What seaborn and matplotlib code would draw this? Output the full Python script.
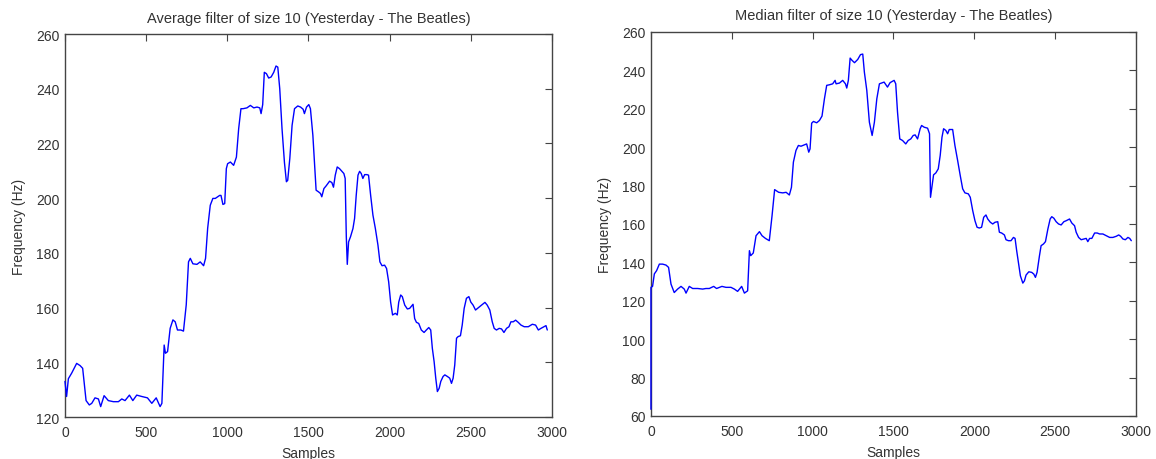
import numpy as np
import pandas as pd
import matplotlib
matplotlib.use("Agg")
import matplotlib.pyplot as plt
import seaborn as sns

# Average filter curve (samples, Hz)
avg_x = [0, 10, 21, 41, 72, 93, 109, 130, 150, 165, 185, 206, 220, 241, 267, 298,
         329, 350, 370, 397, 418, 442, 473, 508, 535, 562, 586, 597, 611, 619, 632,
         648, 665, 679, 693, 714, 730, 747, 761, 772, 788, 813, 833, 854, 866, 879,
         895, 911, 926, 953, 961, 973, 984, 994, 1002, 1019, 1039, 1056, 1070, 1084,
         1097, 1121, 1142, 1163, 1183, 1200, 1208, 1218, 1228, 1241, 1255, 1270, 1286,
         1300, 1311, 1323, 1337, 1352, 1364, 1372, 1385, 1399, 1414, 1434, 1451, 1467,
         1475, 1488, 1502, 1512, 1527, 1537, 1547, 1562, 1574, 1582, 1595, 1609, 1630,
         1644, 1654, 1665, 1677, 1691, 1706, 1718, 1726, 1733, 1739, 1747, 1759, 1774,
         1784, 1794, 1805, 1815, 1825, 1835, 1846, 1860, 1870, 1883, 1897, 1912, 1928,
         1940, 1953, 1969, 1981, 1994, 2006, 2018, 2035, 2047, 2056, 2068, 2078, 2093,
         2109, 2123, 2144, 2154, 2165, 2179, 2195, 2212, 2226, 2241, 2253, 2263, 2274,
         2284, 2294, 2305, 2315, 2329, 2340, 2356, 2370, 2381, 2391, 2401, 2412, 2422,
         2436, 2447, 2459, 2473, 2488, 2500, 2514, 2529, 2545, 2566, 2587, 2601, 2617,
         2632, 2644, 2658, 2675, 2689, 2704, 2720, 2735, 2747, 2761, 2776, 2792, 2809,
         2829, 2854, 2879, 2899, 2916, 2932, 2951, 2963, 2971]
avg_hz = [133, 127.5, 134, 136, 139.6, 138.8, 137.8, 126, 124.4, 125, 127, 126.6,
          123.8, 127.8, 126, 125.6, 125.6, 126.6, 126, 128, 126, 128, 127.5, 127, 125,
          127, 123.8, 125, 146.3, 143.3, 143.9, 152.4, 155.5, 154.8, 151.8, 151.8,
          151.4, 161, 176.7, 178, 176, 175.8, 176.7, 175.3, 178, 189, 197.4, 199.9,
          199.9, 201, 201, 197.7, 198, 210.8, 212.6, 213.2, 212, 215, 225.4, 232.7,
          232.7, 233, 233.9, 233, 233.3, 233, 230.9, 234.2, 246, 245.5, 243.9, 244.3,
          246, 248.3, 247.9, 240, 225.4, 213, 206, 206.5, 214.5, 226.6, 232.7, 233.7,
          233.3, 232.5, 230.9, 233.3, 234.2, 232.7, 223, 213, 202.9, 202.3, 201.7,
          200.5, 203.5, 204.5, 206.2, 205.7, 204, 208.4, 211.4, 210.8, 209.8, 209,
          207.2, 185.9, 175.8, 184, 185.9, 188.9, 192.6, 201, 208.4, 209.8, 209, 207.2,
          208.6, 208.6, 208.4, 201, 193.8, 188.9, 182.8, 176.7, 175.3, 175.5, 174.3,
          169.4, 162, 157.3, 157.9, 157.3, 162, 164.6, 164, 160.9, 159.5, 159.7, 161.2,
          156, 154.6, 154.2, 151.8, 150.9, 151.8, 152.7, 151.8, 145.1, 140.2, 134.2,
          129.3, 130.5, 133, 134.8, 135.4, 134.8, 134.2, 132.3, 134.2, 139, 148.8,
          149.4, 149.7, 153.6, 159.7, 163.4, 164, 162, 160.9, 159.1, 159.9, 160.9,
          161.9, 160.9, 159.1, 154.8, 152.4, 151.8, 152.4, 152.2, 150.9, 152.4, 153,
          154.8, 154.8, 155.4, 154.6, 153.6, 153, 153, 153.9, 153.6, 151.8, 152.4, 153,
          153.4, 151.8]

# Median filter curve (samples, Hz)
med_x = [0, 0, 10, 21, 35, 52, 72, 93, 109, 124, 144, 165, 186, 206, 217, 237, 258,
         289, 320, 340, 361, 388, 406, 439, 464, 495, 516, 536, 561, 578, 598, 609,
         617, 633, 650, 671, 687, 708, 732, 749, 765, 790, 815, 836, 856, 869, 881,
         897, 912, 928, 949, 963, 976, 984, 994, 1005, 1025, 1042, 1058, 1073, 1087,
         1104, 1124, 1139, 1145, 1166, 1186, 1203, 1211, 1221, 1232, 1244, 1259, 1279,
         1296, 1310, 1320, 1335, 1351, 1368, 1382, 1397, 1413, 1442, 1463, 1479, 1504,
         1514, 1525, 1539, 1556, 1576, 1591, 1607, 1622, 1634, 1649, 1665, 1674, 1690,
         1711, 1723, 1729, 1736, 1748, 1762, 1777, 1789, 1800, 1810, 1824, 1835, 1845,
         1866, 1880, 1897, 1913, 1928, 1942, 1963, 1975, 1990, 2004, 2017, 2031, 2045,
         2058, 2072, 2083, 2099, 2114, 2128, 2145, 2155, 2169, 2186, 2196, 2211, 2227,
         2242, 2252, 2262, 2273, 2285, 2300, 2310, 2320, 2337, 2355, 2368, 2378, 2388,
         2403, 2413, 2428, 2440, 2455, 2469, 2479, 2492, 2506, 2521, 2537, 2554, 2568,
         2589, 2603, 2620, 2630, 2645, 2661, 2678, 2692, 2702, 2713, 2727, 2744, 2760,
         2775, 2795, 2816, 2837, 2857, 2878, 2893, 2905, 2919, 2934, 2950, 2961, 2971]
med_hz = [63.5, 127, 127.5, 134, 135.7, 139.1, 139.1, 138.6, 137.4, 128.7, 124.3,
          126.1, 127.5, 126.1, 124, 127.5, 126.4, 126.4, 126.1, 126.4, 126.4, 127.5,
          126.4, 127.5, 127, 127, 126.1, 124.9, 127.5, 124, 125.2, 146.1, 143.5, 144.9,
          153.9, 156, 153.9, 152.5, 151.3, 164.3, 177.9, 176.5, 176.2, 176.5, 175.1,
          179.1, 192.2, 198.3, 200.9, 200.5, 201.2, 201.7, 197.4, 199.1, 212.5, 213.4,
          212.7, 213.9, 216.2, 225.2, 232.2, 232.5, 233, 234.8, 233, 233.4, 234.8, 233,
          230.8, 234.8, 246.4, 245.2, 244, 245.7, 248.2, 248.5, 239.1, 229.6, 213,
          206.1, 213, 225.2, 233, 233.9, 231.3, 233.6, 234.8, 233, 218.3, 204.3, 203.5,
          201.7, 203.5, 204.3, 206.1, 206.4, 204.3, 209.6, 211.3, 210.4, 209.9, 207,
          173.9, 178.3, 185.6, 186.6, 188.7, 195.7, 205.2, 209.6, 208.7, 207, 209.2,
          209.2, 200.9, 193, 185.2, 178.3, 176.2, 175.7, 173.9, 167, 161.7, 158.3,
          157.9, 158.3, 163.5, 164.7, 162.6, 160.9, 160, 160.9, 161.2, 155.7, 155.3,
          154.3, 151.8, 151.3, 151.3, 153, 152.5, 146.1, 140, 133, 129.2, 130.4, 133.4,
          135.1, 134.8, 133.9, 132.2, 134.8, 143.5, 148.7, 149.6, 150.8, 157.4, 162.6,
          163.8, 163, 161.2, 160, 159.5, 161.2, 161.7, 162.6, 160.5, 159.1, 155.7, 153,
          151.8, 152.2, 152.5, 150.8, 152.5, 152.5, 155.3, 155.3, 154.8, 154.8, 153.9,
          153, 153, 153.6, 154.3, 153.6, 152.2, 151.8, 153, 152.5, 151.3]

titles = ["Average filter of size 10 (Yesterday - The Beatles)",
          "Median filter of size 10 (Yesterday - The Beatles)"]
x_ticks = [0, 500, 1000, 1500, 2000, 2500, 3000]
avg_y_ticks = [120, 140, 160, 180, 200, 220, 240, 260]
med_y_ticks = [60, 80, 100, 120, 140, 160, 180, 200, 220, 240, 260]

sns.set_style("white")
plt.rcParams["font.family"] = ["Liberation Sans", "DejaVu Sans"]
text_color = "#333333"
frame_color = "#444444"

fig = plt.figure(figsize=(11.56, 4.6), dpi=100)
ax1 = fig.add_axes([0.0562, 0.0913, 0.4213, 0.8326])
ax2 = fig.add_axes([0.5631, 0.0935, 0.4196, 0.8348])

panels = [
    (ax1, avg_x, avg_hz, avg_y_ticks, titles[0]),
    (ax2, med_x, med_hz, med_y_ticks, titles[1]),
]

for ax, xs, ys, yticks, title in panels:
    df = pd.DataFrame({"Samples": xs, "Frequency (Hz)": ys})
    sns.lineplot(data=df, x="Samples", y="Frequency (Hz)", ax=ax,
                 color="#0000ff", linewidth=1.0, estimator=None, sort=False,
                 zorder=3, clip_on=False)
    ax.set_xlim(0, 3000)
    ax.set_ylim(yticks[0], yticks[-1])
    ax.set_xticks(x_ticks)
    ax.set_yticks(yticks)
    ax.tick_params(direction="in", length=5, width=0.8, top=True, right=True,
                   labelsize=10, colors=frame_color, labelcolor=text_color)
    ax.tick_params(axis="x", pad=6)
    ax.tick_params(axis="y", pad=4)
    for sp in ax.spines.values():
        sp.set_visible(True)
        sp.set_color(frame_color)
        sp.set_linewidth(1.0)
    ax.set_title(title, fontsize=10.5, color=text_color, pad=9)
    ax.set_xlabel("Samples", fontsize=10, color=text_color, labelpad=5)
    ax.set_ylabel("Frequency (Hz)", fontsize=10, color=text_color, labelpad=7)

fig.savefig("out.png", dpi=100)
plt.close(fig)
